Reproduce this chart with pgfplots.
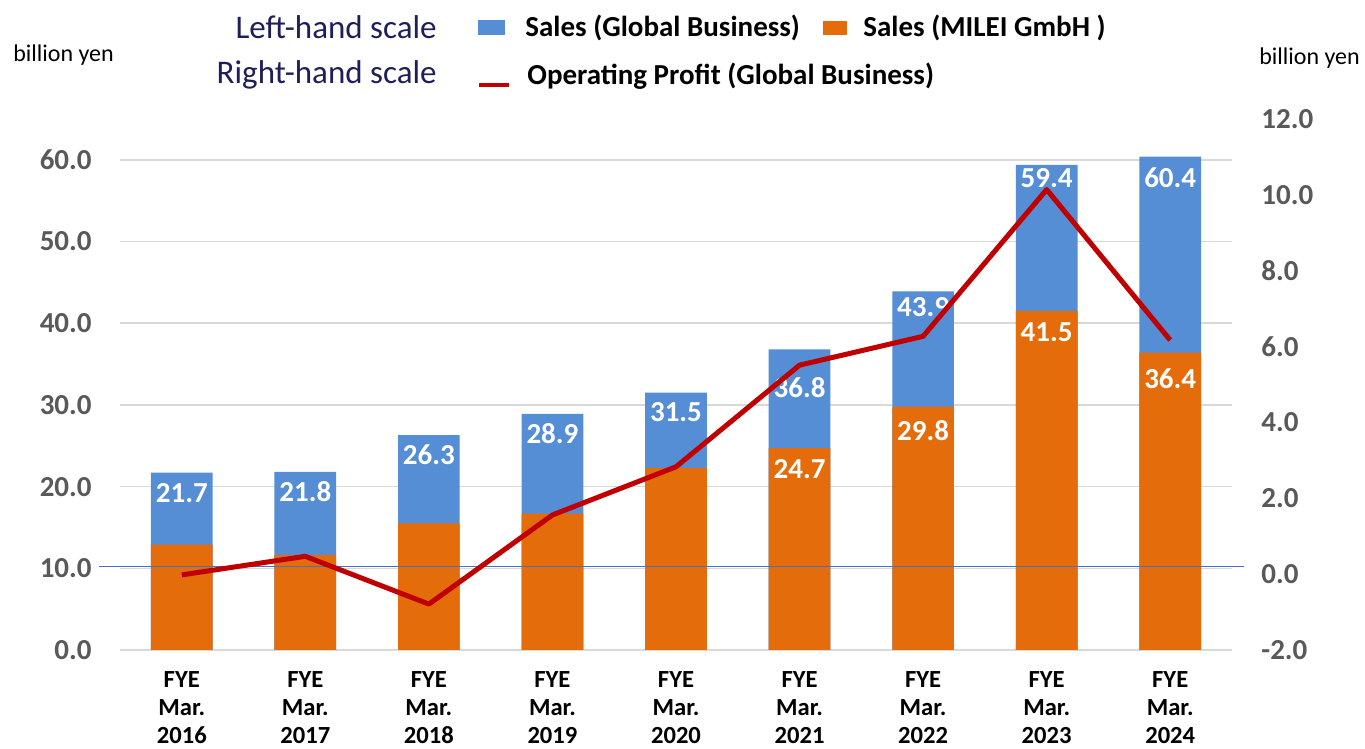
\documentclass[border=0pt]{standalone}
\usepackage{pgfplots}
\pgfplotsset{compat=1.18}
\usepackage{fontspec}
\setmainfont{Carlito}
\definecolor{barblue}{RGB}{85,142,213}
\definecolor{barorange}{RGB}{228,108,10}
\definecolor{profitred}{RGB}{192,0,0}
\definecolor{tickgray}{RGB}{89,89,89}
\definecolor{gridgray}{RGB}{217,217,217}
\definecolor{thinblue}{RGB}{68,114,196}
\definecolor{navy}{RGB}{30,30,90}
\newcommand{\fs}[2]{\fontsize{#1}{#2}\selectfont}
\pgfplotsset{
  twin/.style={width=556pt, height=265.5pt, scale only axis,
    xmin=-0.5, xmax=8.5, axis line style={draw=none},
    major tick length=0pt, clip=false},
  vallabel/.style={draw=none, mark=none, nodes near coords,
    point meta=explicit symbolic,
    every node near coord/.append style={anchor=center, inner sep=0pt,
      text=white, font=\bfseries\fs{14.5}{16}}}
}
\begin{document}
\begin{tikzpicture}
\useasboundingbox (-60pt,-49.5pt) rectangle (622.5pt,325pt);
% left-hand scale: sales
\begin{axis}[twin, ymin=0, ymax=65,
  xtick={0,...,8},
  xticklabels={{FYE\\Mar.\\2016},{FYE\\Mar.\\2017},{FYE\\Mar.\\2018},
    {FYE\\Mar.\\2019},{FYE\\Mar.\\2020},{FYE\\Mar.\\2021},
    {FYE\\Mar.\\2022},{FYE\\Mar.\\2023},{FYE\\Mar.\\2024}},
  xticklabel style={font=\bfseries\fs{12.3}{13.8}, align=center,
    anchor=north, inner sep=0pt, yshift=-10.8pt},
  ytick={0,10,...,60},
  yticklabels={0.0,10.0,20.0,30.0,40.0,50.0,60.0},
  yticklabel style={font=\bfseries\fs{14.5}{16}, text=tickgray,
    anchor=east, inner sep=0pt, xshift=-14pt},
  ymajorgrids, major grid style={draw=gridgray, line width=0.8pt}]
  \addplot[ybar, bar width=30.85pt, fill=barblue, draw=none] coordinates
    {(0,21.7) (1,21.8) (2,26.3) (3,28.9) (4,31.5) (5,36.8) (6,43.9) (7,59.4) (8,60.4)};
  \addplot[ybar, bar width=30.85pt, fill=barorange, draw=none] coordinates
    {(0,12.9) (1,11.6) (2,15.5) (3,16.7) (4,22.3) (5,24.7) (6,29.8) (7,41.5) (8,36.4)};
  % value labels, placed inside the bars
  \addplot[vallabel] coordinates
    {(0,19.25)[21.7] (1,19.35)[21.8] (2,23.9)[26.3] (3,26.45)[28.9] (4,29.1)[31.5]
     (5,32.15)[36.8] (6,41.95)[43.9] (7,57.8)[59.4] (8,57.8)[60.4]};
  \addplot[vallabel] coordinates
    {(5,22.1)[24.7] (6,26.8)[29.8] (7,38.9)[41.5] (8,33.2)[36.4]};
\end{axis}
% right-hand scale: operating profit
\begin{axis}[twin, ymin=-2, ymax=12,
  axis x line=none, axis y line*=right,
  ytick={-2,0,...,12},
  yticklabels={-2.0,0.0,2.0,4.0,6.0,8.0,10.0,12.0},
  yticklabel style={font=\bfseries\fs{14.5}{16}, text=tickgray,
    anchor=west, inner sep=0pt, xshift=14.5pt}]
  \draw[thinblue, line width=0.6pt] (axis cs:-0.668,0.21) -- (axis cs:8.595,0.21);
  \addplot[profitred, line width=2.5pt, line join=round, mark=none] coordinates
    {(0,-0.02) (1,0.47) (2,-0.79) (3,1.56) (4,2.83) (5,5.51) (6,6.27) (7,10.14) (8,6.17)};
\end{axis}
% units
\node[font=\fs{12}{14}] at (-28.25pt,297.5pt) {billion yen};
\node[font=\fs{12}{14}] at (594.75pt,296pt) {billion yen};
% legend
\node[anchor=east, inner sep=0pt, text=navy, font=\fs{16.5}{18}] at (158.5pt,311.5pt) {Left-hand scale};
\node[anchor=east, inner sep=0pt, text=navy, font=\fs{16.5}{18}] at (158.5pt,287.5pt) {Right-hand scale};
\fill[barblue] (179pt,307.5pt) rectangle (192.5pt,315pt);
\node[anchor=west, inner sep=0pt, font=\bfseries\fs{14.5}{16}] at (202.5pt,311pt) {Sales (Global Business)};
\fill[barorange] (351.5pt,307.5pt) rectangle (363.5pt,314.5pt);
\node[anchor=west, inner sep=0pt, font=\bfseries\fs{14.5}{16}] at (371.5pt,311pt) {Sales (MILEI GmbH )};
\draw[profitred, line width=2pt] (179.5pt,282.5pt) -- (194.5pt,282.5pt);
\node[anchor=west, inner sep=0pt, font=\bfseries\fs{14.5}{16}] at (203.5pt,287pt) {Operating Profit (Global Business)};
\end{tikzpicture}
\end{document}
